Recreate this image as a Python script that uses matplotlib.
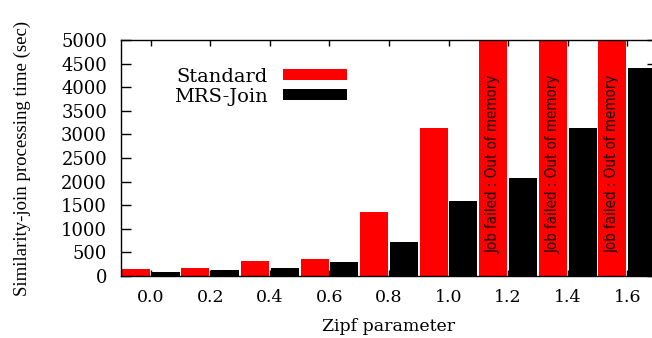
import matplotlib
matplotlib.use("Agg")
import matplotlib.pyplot as plt
import numpy as np

zipf = ["0.0", "0.2", "0.4", "0.6", "0.8", "1.0", "1.2", "1.4", "1.6"]
standard = [150, 175, 325, 360, 1360, 3140, np.nan, np.nan, np.nan]   # nan = job failed
mrs_join = [80, 125, 170, 300, 720, 1590, 2080, 3140, 4410]
failed_label = "Job failed : Out of memory"
yticks = [0, 500, 1000, 1500, 2000, 2500, 3000, 3500, 4000, 4500, 5000]
ymax = 5000

fig = plt.figure(figsize=(6.52, 3.38), dpi=100)
ax = fig.add_axes([121/652, 1-276/338, 536/652, 236/338])

x = np.arange(len(zipf))
w = 0.47
std_arr = np.array(standard, dtype=float)
failed = np.isnan(std_arr)
std_h = np.where(failed, ymax * 1.05, std_arr)

ax.bar(x - 0.25, std_h, width=w, color="#ff0000", label="Standard", zorder=2)
ax.bar(x + 0.25, mrs_join, width=w, color="#000000", label="MRS-Join", zorder=2)

for xi in x[failed]:
    ax.text(xi - 0.25, 2380, failed_label, rotation=90, ha="center", va="center",
            fontsize=10.8, family="DejaVu Sans", fontstretch="condensed", color="#1a0000", zorder=3)

ax.set_xlim(-0.5, len(zipf) - 0.5)
ax.set_ylim(0, ymax)
ax.set_xticks(x)
ax.set_xticklabels(zipf, family="DejaVu Serif", fontsize=12.5)
ax.set_yticks(yticks)
ax.set_yticklabels([str(v) for v in yticks], family="DejaVu Serif", fontsize=13)
ax.tick_params(axis="y", direction="in", length=7, width=1, pad=10, left=True, right=True)
ax.tick_params(axis="x", direction="in", length=4.5, width=1, pad=9, top=True, bottom=True)

ax.set_xlabel("Zipf parameter", family="DejaVu Serif", fontsize=12.5, labelpad=9)
ax.set_ylabel("Similarity-join processing time (sec)", family="Liberation Serif", fontsize=13.5, labelpad=22)

for s in ax.spines.values():
    s.set_linewidth(1.0)
    s.set_color("black")

leg = ax.legend(loc="upper left", bbox_to_anchor=(0.085, 0.915), frameon=False, markerfirst=False,
                prop={"family": "DejaVu Serif", "size": 14}, handlelength=3.3, handleheight=0.5,
                handletextpad=0.75, labelspacing=0.1, borderaxespad=0)

fig.savefig("out.png", dpi=100)
